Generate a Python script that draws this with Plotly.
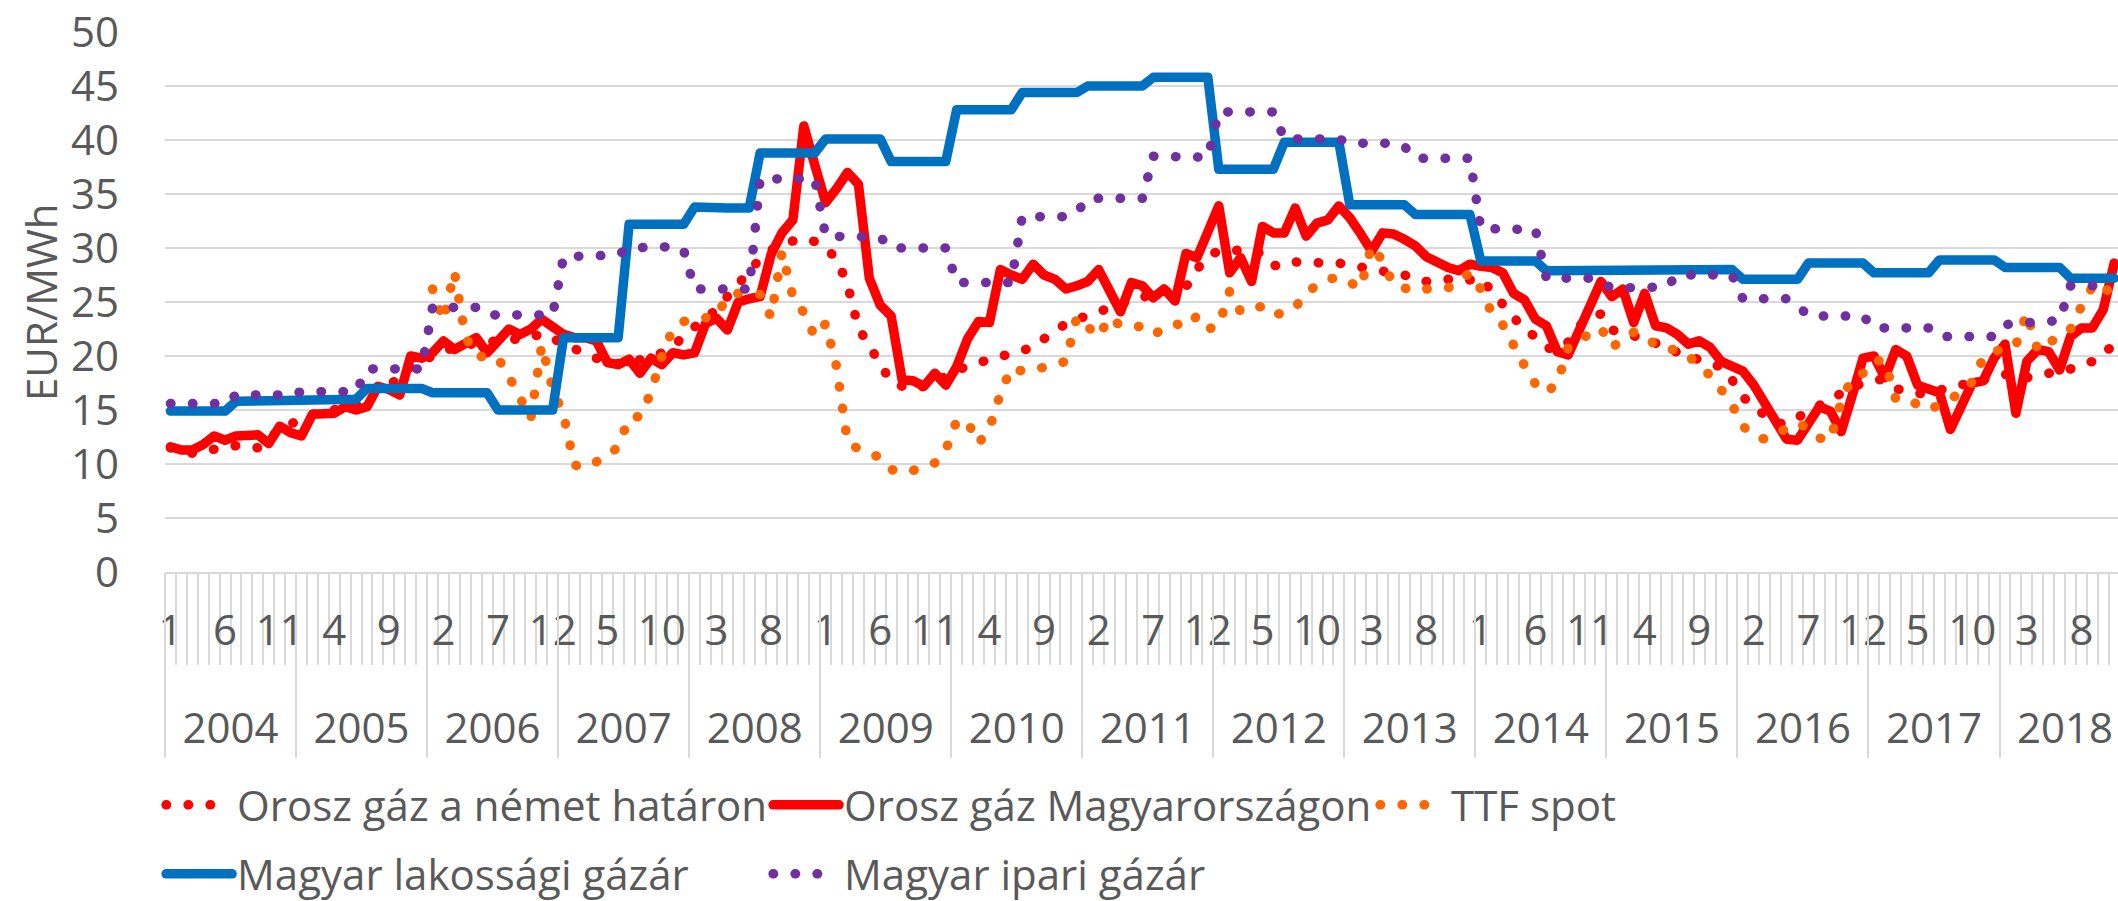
import plotly.graph_objects as go

# ---------------- data (monthly, Jan 2004 - Nov 2018) ----------------
years = [2004, 2005, 2006, 2007, 2008, 2009, 2010, 2011, 2012, 2013, 2014, 2015, 2016, 2017, 2018]

orosz_nemet = [
    11.5, 11.2, 11.0, 11.2, 11.4, 11.6, 11.7, 11.6, 11.5, 12.3, 13.2, 13.7,
    14.2, 14.6, 14.8, 15.0, 15.2, 15.5, 16.2, 16.9, 17.3, 18.0, 19.0, 19.6,
    20.0, 20.5, 20.8, 21.0, 21.2, 21.3, 21.4, 21.5, 21.4, 21.7, 22.1, 21.6,
    21.0, 20.5, 20.2, 19.8, 19.5, 19.3, 19.4, 19.6, 19.9, 20.3, 20.9, 21.8,
    22.7, 23.3, 24.3, 25.6, 26.6, 28.0, 29.0, 29.8, 30.4, 30.7, 30.9, 30.6,
    30.0, 29.0, 26.6, 22.6, 20.8, 19.4, 17.6, 17.2, 16.9, 17.2, 17.6, 18.1,
    18.6, 19.1, 19.4, 19.6, 19.9, 20.3, 20.6, 20.8, 21.6, 22.4, 23.0, 23.4,
    23.7, 24.0, 24.3, 24.8, 25.2, 25.4, 25.6, 25.8, 26.0, 26.4, 28.0, 29.3,
    29.7, 29.8, 29.8, 29.7, 29.5, 28.4, 28.3, 28.7, 28.6, 28.6, 28.6, 28.6,
    28.4, 28.3, 28.2, 28.0, 27.8, 27.6, 27.3, 26.9, 27.1, 27.1, 26.9, 27.0,
    27.2, 26.0, 24.8, 23.6, 22.4, 21.8, 20.8, 20.5, 21.3, 22.8, 23.5, 23.9,
    22.4, 22.2, 21.9, 21.6, 21.2, 20.7, 20.3, 19.9, 19.6, 19.3, 19.0, 17.8,
    16.2, 15.3, 14.5, 13.8, 13.7, 14.3, 14.9, 15.5, 16.1, 16.6, 17.1, 17.5,
    17.8, 17.8, 17.0, 16.7, 16.5, 16.6, 16.8, 17.0, 17.2, 17.5, 17.8, 18.1,
    18.3, 18.2, 18.0, 18.1, 18.5, 18.7, 18.8, 19.1, 19.5, 20.4, 20.9,
]

orosz_magyar = [
    11.6, 11.3, 11.3, 11.8, 12.6, 12.2, 12.6, 12.7, 12.7, 11.9, 13.5, 12.9,
    12.6, 14.6, 14.6, 14.7, 15.3, 15.0, 15.3, 17.2, 16.9, 16.4, 20.0, 19.8,
    20.3, 21.4, 20.6, 21.1, 21.7, 20.3, 21.5, 22.5, 22.0, 22.5, 23.4, 22.8,
    22.0, 21.7, 21.7, 21.4, 19.4, 19.2, 19.7, 18.4, 19.8, 19.2, 20.3, 20.1,
    20.3, 23.0, 23.5, 22.4, 25.0, 25.3, 25.5, 29.4, 31.4, 32.6, 41.3, 37.7,
    34.2, 35.5, 37.0, 35.9, 27.2, 24.7, 23.7, 17.8, 17.7, 17.2, 18.4, 17.3,
    19.0, 21.6, 23.2, 23.1, 28.0, 27.5, 27.1, 28.5, 27.5, 27.1, 26.2, 26.5,
    26.9, 28.0, 25.8, 24.1, 26.8, 26.5, 25.4, 26.2, 25.1, 29.5, 29.1, 31.7,
    33.9, 27.7, 29.1, 26.9, 32.0, 31.4, 31.4, 33.7, 31.1, 32.3, 32.6, 33.9,
    32.8, 31.3, 29.7, 31.4, 31.3, 30.8, 30.2, 29.2, 28.6, 28.2, 27.9, 28.5,
    28.3, 28.2, 27.7, 25.8, 25.2, 23.4, 22.8, 20.4, 20.1, 22.3, 24.8, 26.9,
    25.5, 26.2, 23.1, 25.8, 22.8, 22.6, 22.0, 21.1, 21.4, 20.8, 19.5, 19.0,
    18.6, 17.3, 15.5, 13.9, 12.3, 12.2, 13.6, 15.3, 14.9, 13.0, 16.3, 19.8,
    20.0, 18.0, 20.6, 20.0, 17.3, 17.0, 16.6, 13.2, 15.6, 17.5, 17.7, 19.8,
    21.1, 14.7, 19.5, 20.6, 20.4, 18.7, 21.8, 22.6, 22.6, 24.3, 28.6,
]

ttf_spot = [
    None, None, None, None, None, None, None, None, None, None, None, None,
    None, None, None, None, None, None, None, None, None, None, None, None,
    26.2, 23.3, 27.8, 21.8, 20.0, 19.9, 19.8, 18.1, 16.3, 14.2, 21.0, 17.0,
    14.5, 9.9, 9.7, 10.1, 10.7, 11.6, 14.3, 14.4, 16.6, 20.0, 22.5, 23.2,
    23.4, 23.5, 23.7, 25.5, 25.8, 25.8, 25.7, 23.6, 29.6, 25.5, 24.0, 21.8,
    23.0, 19.0, 12.0, 11.4, 10.9, 10.6, 9.5, 9.2, 9.4, 9.8, 10.1, 11.3,
    14.0, 13.9, 11.9, 13.3, 16.5, 18.9, 18.6, 18.7, 18.9, 19.1, 19.5, 23.6,
    22.8, 21.8, 23.6, 22.8, 22.8, 22.7, 22.0, 22.4, 23.0, 22.7, 23.7, 22.5,
    22.8, 26.0, 24.1, 24.4, 24.6, 23.8, 24.0, 24.5, 25.8, 26.6, 27.1, 27.3,
    26.8, 26.3, 30.2, 28.8, 26.6, 26.2, 26.0, 26.2, 26.3, 26.3, 27.0, 27.7,
    26.2, 24.0, 22.9, 20.8, 19.1, 17.4, 16.6, 17.5, 20.8, 21.5, 22.0, 22.6,
    20.8, 21.6, 22.2, 21.9, 21.0, 20.6, 20.6, 20.0, 19.2, 18.2, 16.9, 15.5,
    13.5, 12.6, 12.3, 12.8, 13.2, 13.8, 13.3, 12.4, 12.2, 15.8, 18.0, 18.4,
    19.6, 19.5, 16.0, 16.0, 15.5, 15.0, 15.5, 16.0, 16.6, 17.6, 19.8, 20.4,
    20.8, 21.0, 24.0, 20.5, 21.2, 21.9, 22.5, 24.6, 26.4, 26.7, 25.0,
]

lakossagi = [
    14.9, 14.9, 14.9, 14.9, 14.9, 14.9, 15.8, 15.8, 15.8, 15.8, 15.8, 15.8,
    16.0, 16.0, 16.0, 16.0, 16.0, 16.0, 17.0, 17.0, 17.0, 17.0, 17.0, 17.0,
    16.6, 16.6, 16.6, 16.6, 16.6, 16.6, 15.0, 15.0, 15.0, 15.0, 15.0, 15.0,
    21.7, 21.7, 21.7, 21.7, 21.7, 21.7, 32.2, 32.2, 32.2, 32.2, 32.2, 32.2,
    33.8, 33.7, 33.7, 33.7, 33.7, 33.7, 38.8, 38.8, 38.8, 38.8, 38.8, 38.8,
    40.1, 40.1, 40.1, 40.1, 40.1, 40.1, 38.0, 38.0, 38.0, 38.0, 38.0, 38.0,
    42.8, 42.8, 42.8, 42.8, 42.8, 42.8, 44.4, 44.4, 44.4, 44.4, 44.4, 44.4,
    45.0, 45.0, 45.0, 45.0, 45.0, 45.0, 45.8, 45.8, 45.8, 45.8, 45.8, 45.8,
    37.3, 37.3, 37.3, 37.3, 37.3, 37.3, 39.8, 39.8, 39.8, 39.8, 39.8, 39.8,
    34.0, 34.0, 34.0, 34.0, 34.0, 34.0, 33.1, 33.1, 33.1, 33.1, 33.1, 33.1,
    28.8, 28.8, 28.8, 28.8, 28.8, 28.8, 27.9, 27.9, 27.9, 27.9, 27.9, 27.9,
    28.0, 28.0, 28.0, 28.0, 28.0, 28.0, 28.0, 28.0, 28.0, 28.0, 28.0, 28.0,
    27.1, 27.1, 27.1, 27.1, 27.1, 27.1, 28.6, 28.6, 28.6, 28.6, 28.6, 28.6,
    27.7, 27.7, 27.7, 27.7, 27.7, 27.7, 28.9, 28.9, 28.9, 28.9, 28.9, 28.9,
    28.2, 28.2, 28.2, 28.2, 28.2, 28.2, 27.2, 27.2, 27.2, 27.2, 27.2,
]

ipari = [
    15.6, 15.6, 15.6, 15.6, 15.6, 15.6, 16.4, 16.4, 16.4, 16.4, 16.4, 16.4,
    16.7, 16.7, 16.7, 16.7, 16.7, 16.7, 18.8, 18.8, 18.8, 18.8, 18.8, 18.8,
    24.5, 24.5, 24.5, 24.5, 24.5, 23.8, 23.8, 23.8, 23.8, 23.8, 23.8, 23.8,
    29.2, 29.3, 29.3, 29.3, 29.3, 29.4, 30.0, 30.1, 30.1, 30.1, 30.1, 29.8,
    26.2, 26.2, 26.2, 26.2, 26.2, 26.2, 36.4, 36.4, 36.4, 36.4, 36.4, 36.4,
    31.1, 31.1, 31.1, 31.1, 31.1, 31.0, 30.0, 30.0, 30.0, 30.0, 30.0, 30.0,
    26.8, 26.8, 26.8, 26.8, 26.8, 26.8, 32.9, 32.9, 32.9, 32.9, 32.9, 33.3,
    34.6, 34.6, 34.6, 34.6, 34.6, 34.6, 38.5, 38.5, 38.5, 38.5, 38.5, 38.4,
    42.6, 42.6, 42.6, 42.6, 42.6, 42.6, 40.1, 40.1, 40.1, 40.1, 40.1, 40.1,
    39.7, 39.7, 39.7, 39.7, 39.7, 39.4, 38.3, 38.3, 38.3, 38.3, 38.3, 38.3,
    31.8, 31.8, 31.8, 31.8, 31.8, 31.7, 27.2, 27.2, 27.2, 27.2, 27.2, 26.8,
    26.3, 26.3, 26.3, 26.3, 26.3, 26.4, 27.5, 27.5, 27.5, 27.5, 27.5, 27.5,
    25.3, 25.3, 25.3, 25.3, 25.3, 24.7, 23.7, 23.7, 23.7, 23.7, 23.7, 23.7,
    22.6, 22.6, 22.6, 22.6, 22.6, 22.6, 21.8, 21.8, 21.8, 21.8, 21.8, 21.8,
    22.9, 23.1, 23.1, 23.1, 23.1, 23.3, 26.5, 26.5, 26.5, 26.5, 26.5,
]

# category axis: one slot per month
months = [f"{y}-{m:02d}" for y in years for m in range(1, 13)][:len(orosz_magyar)]
xpos = list(range(len(months)))

month_tickvals = list(range(0, 12 * len(years), 5))
month_ticktext = [str(i % 12 + 1) for i in month_tickvals]
year_centers = [12 * k + 5.5 for k in range(len(years))]
year_text = [str(y) for y in years]

# ---------------- style ----------------
FONT = "Open Sans"
FS = 42
TXT = "#595959"
GRID = "#d9d9d9"
DOT = "0.5px,21.5px"
LW = 9.5

fig = go.Figure()

def add(name, y, color, dash, legend, xaxis="x"):
    fig.add_trace(go.Scatter(
        x=xpos, y=y, name=name, mode="lines", customdata=months,
        line=dict(color=color, width=LW, dash=dash),
        connectgaps=False, legend=legend, xaxis=xaxis, yaxis="y",
        hovertemplate="%{customdata}: %{y}<extra>" + name + "</extra>",
    ))

add("Orosz gáz a német határon", orosz_nemet, "#ff0000", DOT, "legend")
add("Orosz gáz Magyarországon", orosz_magyar, "#ff0000", "solid", "legend")
add("TTF spot", ttf_spot, "#ff6600", DOT, "legend")
add("Magyar lakossági gázár", lakossagi, "#0070c0", "solid", "legend2")
# drawn on the overlaying year axis (same range) so that axis is rendered
add("Magyar ipari gázár", ipari, "#7030a0", DOT, "legend2", xaxis="x2")

XR = [-0.5, 178.35]

legend_common = dict(
    orientation="h", xanchor="left", yanchor="top",
    font=dict(family=FONT, size=FS, color=TXT),
    bgcolor="rgba(0,0,0,0)", borderwidth=0,
    itemwidth=66, entrywidth=526, entrywidthmode="pixels",
    traceorder="normal", itemclick=False, itemdoubleclick=False,
)

fig.update_layout(
    width=2118, height=901,
    margin=dict(l=165, r=0, t=32, b=329, pad=0, autoexpand=False),
    paper_bgcolor="white", plot_bgcolor="white",
    font=dict(family=FONT, size=FS, color=TXT),
    template="none",
    showlegend=True,
    legend=dict(x=-0.002, y=-0.3685, **legend_common),
    legend2=dict(x=-0.002, y=-0.4963, **legend_common),
    xaxis=dict(
        range=XR, showgrid=False, zeroline=False, automargin=False,
        showline=True, linecolor=GRID, linewidth=2,
        tickmode="array", tickvals=month_tickvals, ticktext=month_ticktext,
        ticks="", ticklabelstandoff=21,
        tickfont=dict(family=FONT, size=FS, color=TXT),
        minor=dict(ticks="outside", tick0=-0.5, dtick=1, ticklen=91,
                   tickcolor=GRID, tickwidth=1.5, showgrid=False),
        fixedrange=True,
    ),
    xaxis2=dict(
        overlaying="x", anchor="y", side="bottom",
        range=XR, showgrid=False, zeroline=False, automargin=False,
        showline=False,
        tickmode="array", tickvals=year_centers, ticktext=year_text,
        ticks="", ticklabelstandoff=128,
        tickfont=dict(family=FONT, size=FS, color=TXT),
        minor=dict(ticks="outside", tick0=-0.5, dtick=12, ticklen=185,
                   tickcolor=GRID, tickwidth=1.5, showgrid=False),
        fixedrange=True,
    ),
    yaxis=dict(
        range=[0, 50], tick0=0, dtick=5, showgrid=True, gridcolor=GRID, gridwidth=2,
        zeroline=False, showline=False, ticks="", automargin=False,
        ticklabelstandoff=45,
        tickfont=dict(family=FONT, size=FS, color=TXT),
        fixedrange=True,
    ),
    annotations=[dict(
        text="EUR/MWh", textangle=-90, showarrow=False,
        xref="paper", yref="paper", x=0, y=0.5, xanchor="center", yanchor="middle",
        xshift=-125, font=dict(family=FONT, size=FS, color=TXT),
    )],
)

post = """
document.body.style.margin = '0';
document.body.style.padding = '0';
document.documentElement.style.overflow = 'hidden';
var gd = document.getElementById('{plot_id}');
function roundCaps(){
  gd.querySelectorAll('path.js-line').forEach(function(p){
    p.style.strokeLinecap = 'round';
    p.style.strokeLinejoin = 'round';
  });
}
roundCaps();
gd.on('plotly_afterplot', roundCaps);
"""

fig.write_html("out.html", post_script=post, config={"displayModeBar": False})
